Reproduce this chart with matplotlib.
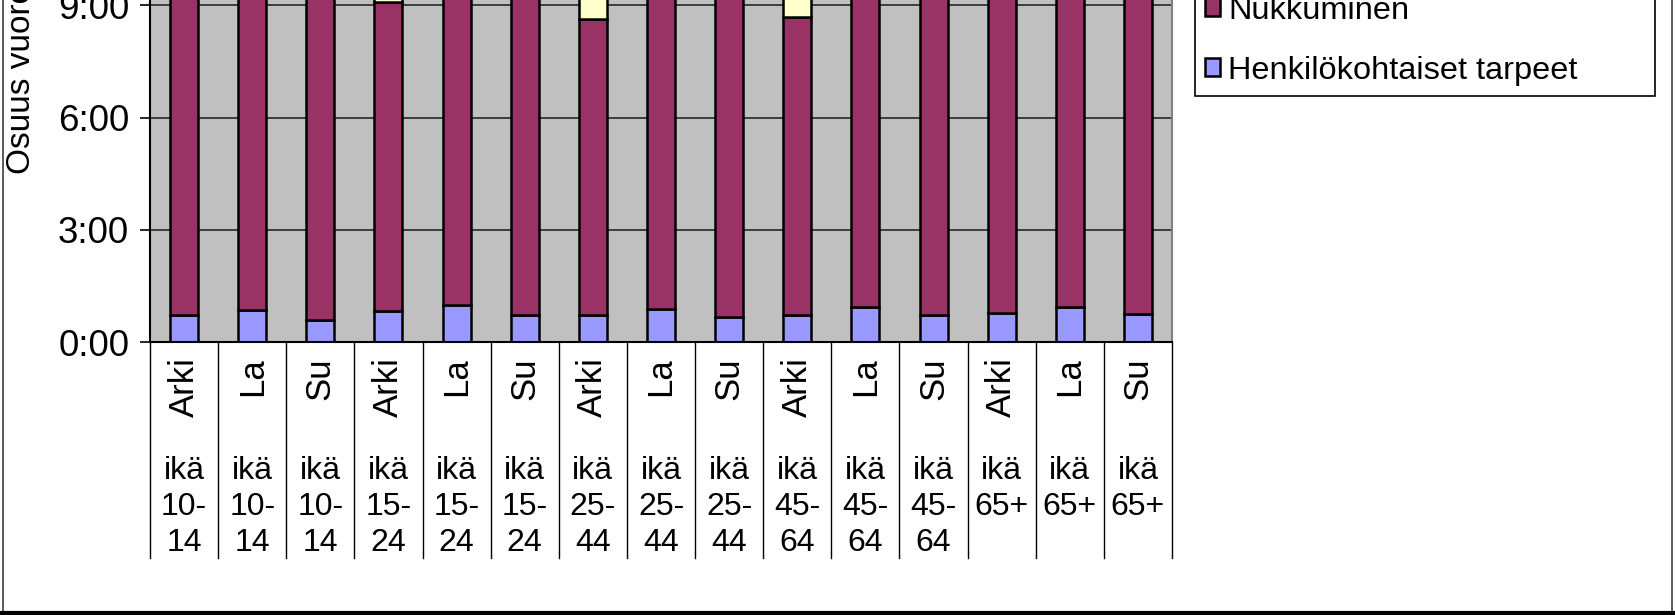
import numpy as np
import matplotlib
matplotlib.use('Agg')
import matplotlib.pyplot as plt
from matplotlib.lines import Line2D

plt.rcParams['font.family'] = ['Liberation Sans', 'DejaVu Sans']

# luokat: päivä + ikäryhmä
paivat = ['Arki', 'La', 'Su', 'Arki', 'La', 'Su', 'Arki', 'La', 'Su',
          'Arki', 'La', 'Su', 'Arki', 'La', 'Su']
ikaryhmat = ['ikä\n10-\n14', 'ikä\n10-\n14', 'ikä\n10-\n14',
             'ikä\n15-\n24', 'ikä\n15-\n24', 'ikä\n15-\n24',
             'ikä\n25-\n44', 'ikä\n25-\n44', 'ikä\n25-\n44',
             'ikä\n45-\n64', 'ikä\n45-\n64', 'ikä\n45-\n64',
             'ikä\n65+', 'ikä\n65+', 'ikä\n65+']

# tunteina (kuvan yläosa on rajattu pois, piilossa olevat osat arvioitu)
henkilokohtaiset = [0.71, 0.85, 0.58, 0.82, 0.98, 0.71, 0.72, 0.89, 0.67,
                    0.71, 0.93, 0.71, 0.78, 0.93, 0.76]
nukkuminen = [9.15, 10.0, 10.1, 8.26, 9.4, 9.9, 7.91, 8.9, 9.3,
              7.97, 8.7, 9.0, 9.0, 9.0, 9.2]
ruokailu = [1.2, 1.3, 1.3, 1.1, 1.2, 1.2, 1.1, 1.3, 1.3,
            1.2, 1.3, 1.3, 1.4, 1.4, 1.4]

W, H = 1675, 615
y0 = 342          # 0:00 pikseleinä ylhäältä
px_tunti = 37.41
ymax = 24
ax_h = ymax * px_tunti

fig = plt.figure(figsize=(W / 100, H / 100), dpi=100)
ax = fig.add_axes([150 / W, (H - y0) / H, (1172 - 150) / W, ax_h / H])

x = np.arange(len(paivat))
henk = np.array(henkilokohtaiset)
nukk = np.array(nukkuminen)
b1 = ax.bar(x, henk, width=0.41, color='#9999FF', edgecolor='black', lw=1.8,
            label='Henkilökohtaiset tarpeet')
b2 = ax.bar(x, nukk, bottom=henk, width=0.41, color='#993366', edgecolor='black',
            lw=1.8, label='Nukkuminen')
b3 = ax.bar(x, ruokailu, bottom=henk + nukk, width=0.41, color='#FFFFCC',
            edgecolor='black', lw=1.8, label='Ruokailu')

ax.set_xlim(-0.5, len(paivat) - 0.5)
ax.set_ylim(0, ymax)
ax.set_facecolor('#C0C0C0')
ax.set_yticks(range(0, ymax + 1, 3))
ax.set_yticklabels([f'{h}:00' for h in range(0, ymax + 1, 3)])
ax.yaxis.grid(True, color='#1a1a1a', lw=1.1)
ax.set_axisbelow(True)
ax.set_xticks([])
ax.tick_params(axis='y', length=7, width=1.2, labelsize=26.5, pad=8)
ax.spines['left'].set_linewidth(1.5)
ax.spines['bottom'].set_linewidth(1.5)
ax.spines['right'].set_color('#808080')
ax.spines['right'].set_linewidth(1.5)

# luokka-akselin tekstit ja erotinviivat
tr = ax.get_xaxis_transform()
for b in np.arange(-0.5, len(paivat)):
    ax.plot([b, b], [0, -(558 - y0) / ax_h], transform=tr, color='black',
            lw=1.0, clip_on=False)
for i in range(len(paivat)):
    ax.text(i, -(357 - y0) / ax_h, paivat[i], transform=tr, rotation=90,
            ha='center', va='top', fontsize=25)
    ax.text(i, -(456 - y0) / ax_h, ikaryhmat[i], transform=tr, ha='center',
            va='top', fontsize=23, linespacing=1.26)

fig.text(22 / W, (H - 174) / H, 'Osuus vuorokaudesta', rotation=90,
         ha='center', va='bottom', fontsize=24)

leg = ax.legend([b3, b2, b1], ['Ruokailu', 'Nukkuminen', 'Henkilökohtaiset tarpeet'],
                loc='lower left', bbox_to_anchor=(1195 / W, (H - 96) / H, (1655 - 1195) / W, 0.3),
                bbox_transform=fig.transFigure, mode='expand', fontsize=23.4,
                fancybox=False, edgecolor='black', framealpha=1, borderpad=0.32,
                handlelength=0.45, handleheight=0.45, handletextpad=0.25,
                labelspacing=0.92, borderaxespad=0)
leg.get_frame().set_linewidth(1.2)

# kaavioalueen reunat
fig.add_artist(Line2D([3 / W, 3 / W], [0, 1], color='#404040', lw=1.2))
fig.add_artist(Line2D([1672 / W, 1672 / W], [0, 1], color='#404040', lw=1.2))
fig.add_artist(Line2D([0, 1], [2 / H, 2 / H], color='black', lw=3))

fig.savefig('out.png', dpi=100)
